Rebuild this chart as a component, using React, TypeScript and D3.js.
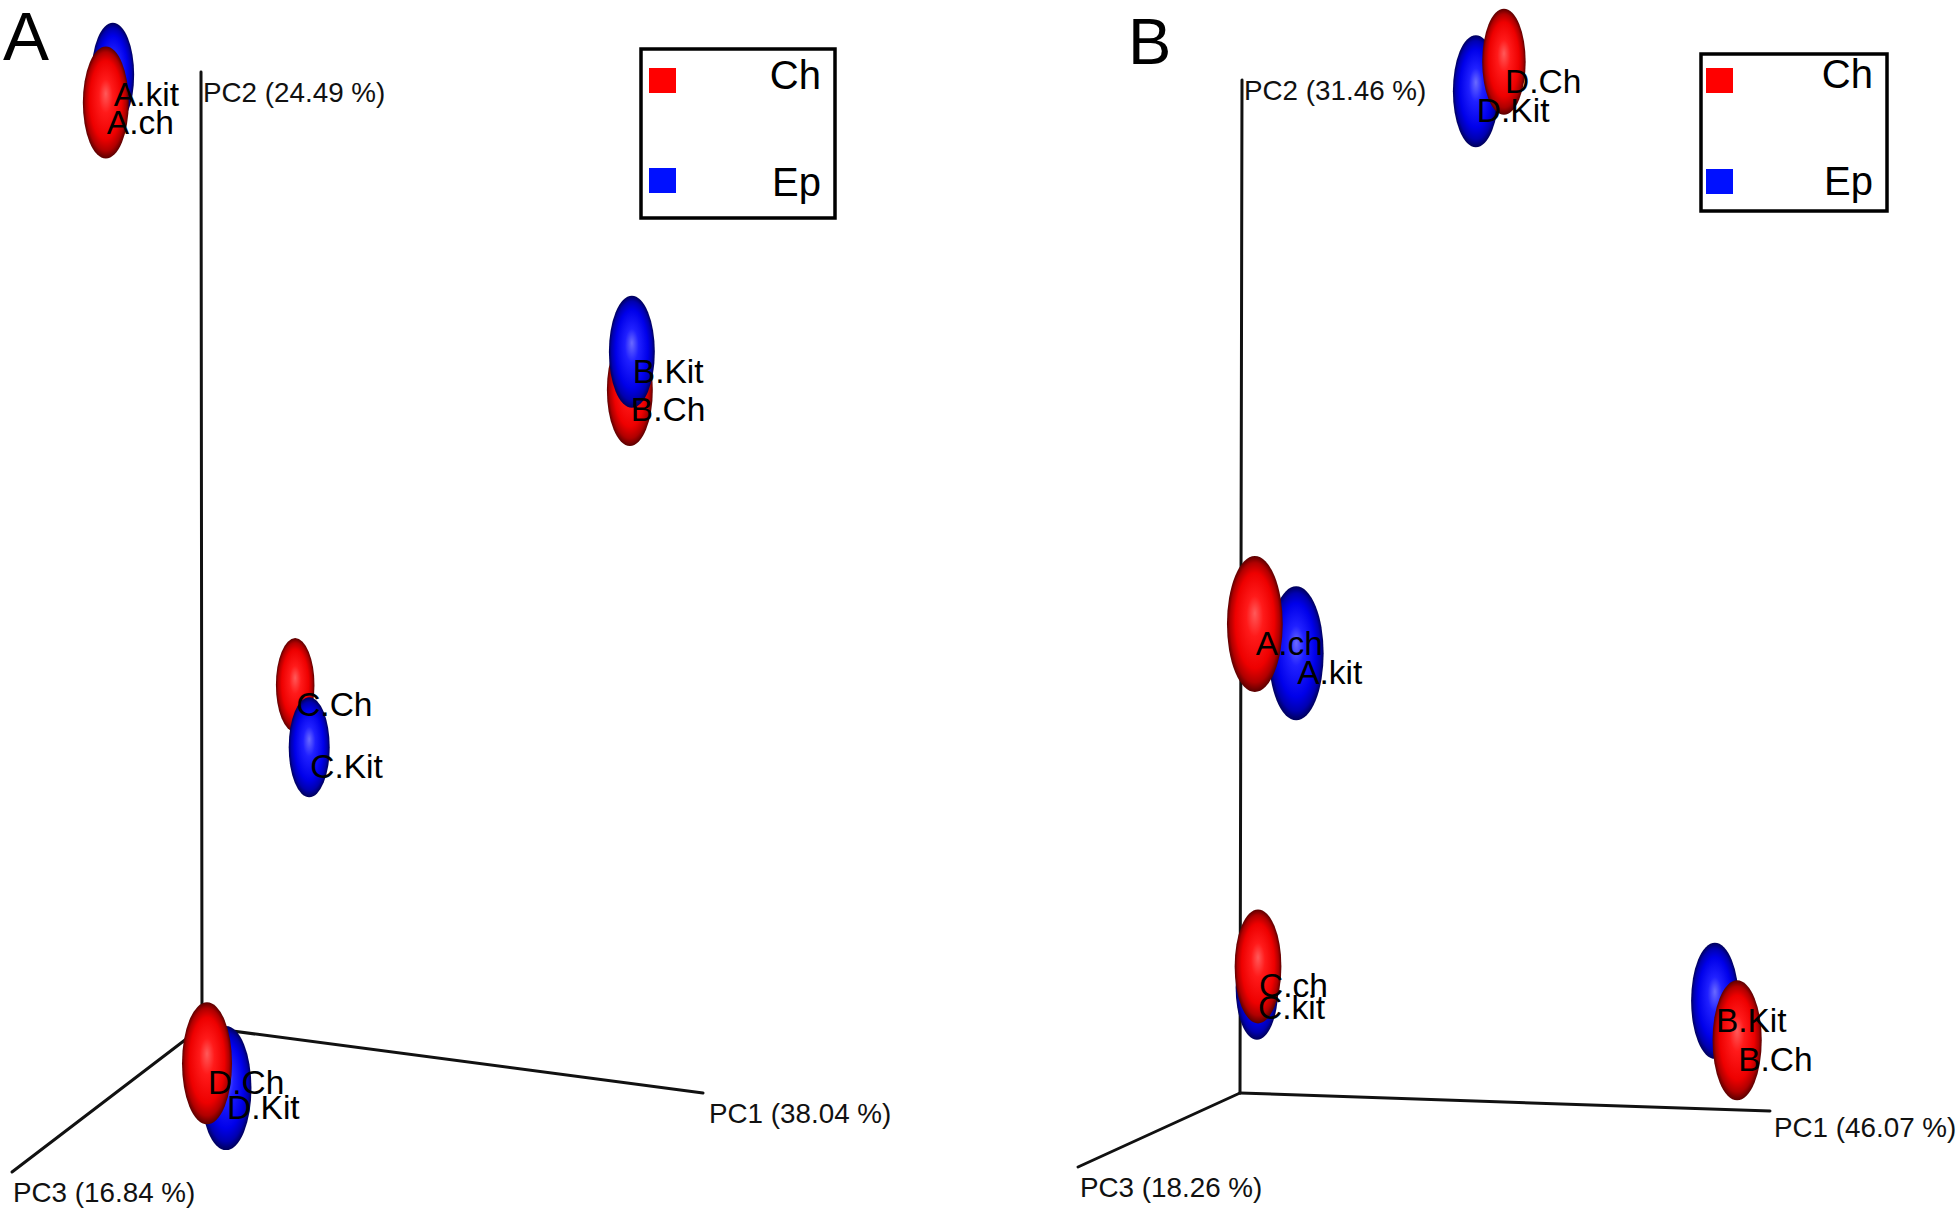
import React from "react";
import * as d3 from "d3";

// ---------- DATA ----------
// Panel A (PC1 38.04 %, PC2 24.49 %, PC3 16.84 %): projected coordinates
// u: fraction along PC1 horizontal extent, v: fraction along PC2 height
const samplesA = ["A.kit", "A.ch", "B.Ch", "B.Kit", "C.Ch", "C.Kit", "D.Kit", "D.Ch"];
const groupsA = ["Ep", "Ch", "Ch", "Ep", "Ch", "Ep", "Ep", "Ch"];
const uA = [-0.178, -0.192, 0.854, 0.858, 0.186, 0.214, 0.048, 0.01];
const vA = [0.997, 0.968, 0.667, 0.707, 0.358, 0.293, -0.064, -0.038];
const spreadA = [0.52, 0.56, 0.56, 0.56, 0.47, 0.5, 0.62, 0.61];

// Panel B (PC1 46.07 %, PC2 31.46 %, PC3 18.26 %)
const samplesB = ["D.Kit", "D.Ch", "A.kit", "A.ch", "C.kit", "C.ch", "B.Kit", "B.Ch"];
const groupsB = ["Ep", "Ch", "Ep", "Ch", "Ep", "Ch", "Ep", "Ch"];
const uB = [0.445, 0.498, 0.106, 0.028, 0.032, 0.034, 0.896, 0.938];
const vB = [0.989, 1.018, 0.434, 0.463, 0.104, 0.125, 0.091, 0.052];
const spreadB = [0.56, 0.53, 0.67, 0.68, 0.52, 0.57, 0.58, 0.6];

const legendLabels = ["Ch", "Ep"];
const axisLabelsA = ["PC1 (38.04 %)", "PC2 (24.49 %)", "PC3 (16.84 %)"];
const axisLabelsB = ["PC1 (46.07 %)", "PC2 (31.46 %)", "PC3 (18.26 %)"];

// ---------- LAYOUT ----------
const W = 1956;
const H = 1209;
const FONT = "'Liberation Sans', Arial, Helvetica, sans-serif";

type Pt = [number, number];
interface Panel {
  id: string;
  letter: string;
  letterPos: Pt;
  letterSize: number;
  origin: Pt;
  pc1End: Pt;
  pc2Top: Pt;
  pc3End: Pt;
  labelPos: Pt[];
  axisLabels: string[];
  legend: { x: number; y: number; w: number; h: number; sq: Pt[]; txt: Pt[] };
  samples: string[];
  groups: string[];
  u: number[];
  v: number[];
  spread: number[];
}

const panels: Panel[] = [
  {
    id: "a",
    letter: "A",
    letterPos: [3, 60],
    letterSize: 69,
    origin: [202, 1027],
    pc1End: [703, 1093],
    pc2Top: [201, 72],
    pc3End: [12, 1172],
    labelPos: [[709, 1123], [203, 102], [13, 1202]],
    axisLabels: axisLabelsA,
    legend: { x: 641, y: 49, w: 194, h: 169, sq: [[649, 68], [649, 168]], txt: [[821, 89], [821, 196]] },
    samples: samplesA,
    groups: groupsA,
    u: uA,
    v: vA,
    spread: spreadA,
  },
  {
    id: "b",
    letter: "B",
    letterPos: [1128, 64],
    letterSize: 65,
    origin: [1240, 1093],
    pc1End: [1770, 1111],
    pc2Top: [1242, 80],
    pc3End: [1078, 1167],
    labelPos: [[1774, 1137], [1244, 100], [1080, 1197]],
    axisLabels: axisLabelsB,
    legend: { x: 1701, y: 54, w: 186, h: 157, sq: [[1706, 68], [1706, 169]], txt: [[1873, 88], [1873, 195]] },
    samples: samplesB,
    groups: groupsB,
    u: uB,
    v: vB,
    spread: spreadB,
  },
];

const colorScale = d3.scaleOrdinal<string, string>().domain(legendLabels).range(["#ff0000", "#0010ff"]);
const sizeScale = d3.scaleLinear().domain([0, 1]).range([0, 100]);
const ASPECT = 0.41;

function PanelView({ p }: { p: Panel }) {
  const x = d3.scaleLinear().domain([0, 1]).range([p.origin[0], p.pc1End[0]]);
  const y = d3.scaleLinear().domain([0, 1]).range([p.origin[1], p.pc2Top[1]]);
  const idx = d3.range(p.samples.length);
  const line = d3.line();
  return (
    <g>
      <text x={p.letterPos[0]} y={p.letterPos[1]} fontSize={p.letterSize} fontFamily={FONT} fill="#000">
        {p.letter}
      </text>
      {/* axes */}
      <g stroke="#111" strokeWidth={3} fill="none" strokeLinecap="round">
        <path d={line([p.origin, p.pc2Top]) || ""} />
        <path d={line([p.origin, p.pc1End]) || ""} />
        <path d={line([p.origin, p.pc3End]) || ""} />
      </g>
      <g fontFamily={FONT} fontSize={27.8} fill="#111">
        {p.axisLabels.map((t, i) => (
          <text key={t} x={p.labelPos[i][0]} y={p.labelPos[i][1]}>
            {t}
          </text>
        ))}
      </g>
      {/* ellipsoids */}
      {idx.map((i) => {
        const ry = sizeScale(p.spread[i]);
        return (
          <ellipse
            key={p.samples[i]}
            cx={x(p.u[i])}
            cy={y(p.v[i])}
            rx={ry * ASPECT}
            ry={ry}
            fill={`url(#grad-${p.id}-${p.groups[i]})`}
          />
        );
      })}
      {/* labels */}
      <g fontFamily={FONT} fontSize={33.5} fill="#000">
        {idx.map((i) => (
          <text key={p.samples[i]} x={x(p.u[i]) + 1} y={y(p.v[i]) + 31}>
            {p.samples[i]}
          </text>
        ))}
      </g>
      {/* legend */}
      <rect
        x={p.legend.x}
        y={p.legend.y}
        width={p.legend.w}
        height={p.legend.h}
        fill="#fff"
        stroke="#000"
        strokeWidth={3.5}
      />
      {legendLabels.map((l, i) => (
        <g key={l}>
          <rect x={p.legend.sq[i][0]} y={p.legend.sq[i][1]} width={27} height={25} fill={colorScale(l)} />
          <text
            x={p.legend.txt[i][0]}
            y={p.legend.txt[i][1]}
            textAnchor="end"
            fontFamily={FONT}
            fontSize={40}
            fill="#000"
          >
            {l}
          </text>
        </g>
      ))}
    </g>
  );
}

function Gradients() {
  const defs: { key: string; stops: [number, string][] }[] = [];
  for (const pid of ["a", "b"]) {
    defs.push({
      key: `grad-${pid}-Ch`,
      stops: [
        [0, "#ff5a5a"],
        [0.3, "#ff1a1a"],
        [0.7, "#ee0000"],
        [0.88, "#b00000"],
        [1, "#5a0000"],
      ],
    });
    defs.push({
      key: `grad-${pid}-Ep`,
      stops: [
        [0, "#6a6aff"],
        [0.3, "#2020ff"],
        [0.7, "#0000ea"],
        [0.88, "#0000b0"],
        [1, "#00005a"],
      ],
    });
  }
  return (
    <defs>
      {defs.map((g) => (
        <radialGradient key={g.key} id={g.key} cx="0.5" cy="0.5" r="0.5" fx="0.5" fy="0.42">
          {g.stops.map(([o, c]) => (
            <stop key={o} offset={o} stopColor={c} />
          ))}
        </radialGradient>
      ))}
    </defs>
  );
}

export default function App() {
  return (
    <svg
      width={W}
      height={H}
      viewBox={`0 0 ${W} ${H}`}
      style={{ position: "absolute", left: 0, top: 0, display: "block", background: "#fff" }}
    >
      <Gradients />
      <rect x={0} y={0} width={W} height={H} fill="#fff" />
      {panels.map((p) => (
        <PanelView key={p.id} p={p} />
      ))}
    </svg>
  );
}
